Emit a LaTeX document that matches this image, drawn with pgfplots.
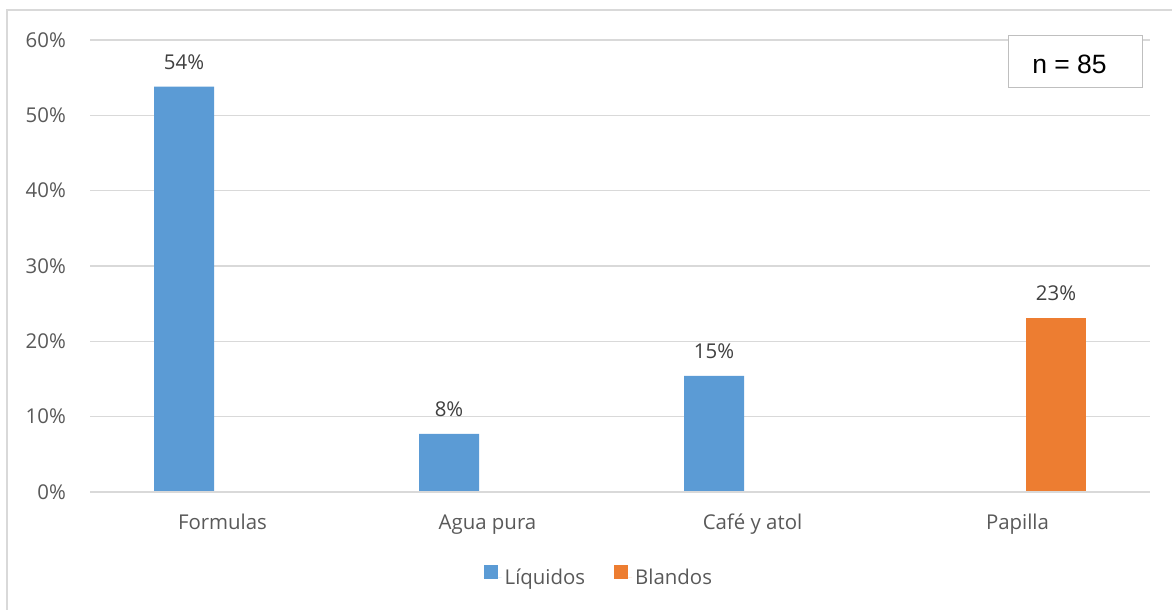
\documentclass[border=0pt]{standalone}
\usepackage{pgfplots}
\pgfplotsset{compat=1.18}
\usepackage{fontspec}
\setmainfont{Open Sans}
\newfontfamily\arialf{Liberation Sans}
\definecolor{barblue}{HTML}{5B9BD5}
\definecolor{barorange}{HTML}{ED7D31}
\definecolor{gridgray}{HTML}{D9D9D9}
\definecolor{boxgray}{HTML}{BFBFBF}
\definecolor{txtgray}{HTML}{595959}
\definecolor{lblgray}{HTML}{404040}
\begin{document}
\begin{tikzpicture}[x=1pt,y=1pt]
\useasboundingbox (0pt,0pt) rectangle (1172pt,-610pt);
\draw[gridgray, line width=1.2pt] (7pt,-610pt) -- (7pt,-10pt) -- (1172pt,-10pt);
\begin{axis}[
  at={(90pt,-492pt)}, anchor=south west,
  scale only axis, width=1060pt, height=452pt,
  xmin=-0.5, xmax=3.5, ymin=0, ymax=60,
  xtick={0,1,2,3},
  xticklabels={Formulas, Agua pura, Café y atol, Papilla},
  ytick={0,10,20,30,40,50,60},
  /pgf/number format/assume math mode=true,
  yticklabel={\pgfmathprintnumber{\tick}\%},
  axis line style={draw=none},
  major tick length=0pt,
  tick style={draw=none},
  ymajorgrids,
  grid style={gridgray, line width=1.2pt},
  tick label style={font=\fontsize{20.4}{24}\selectfont, text=txtgray, inner sep=0pt},
  yticklabel style={anchor=east, xshift=-24pt},
  xticklabel style={anchor=base, yshift=-37pt},
  nodes near coords={\pgfmathprintnumber[fixed,precision=0]{\pgfplotspointmeta}\%},
  point meta=y,
  nodes near coords style={font=\fontsize{20.4}{24}\selectfont, text=lblgray, anchor=base, inner sep=0pt, yshift=17pt},
  legend columns=2,
  legend style={at={(0.4805,-0.188)}, anchor=center, draw=none, fill=none,
    font=\fontsize{20.4}{24}\selectfont, text=txtgray,
    /tikz/every even column/.append style={column sep=26pt},
    nodes={inner sep=3pt}},
  legend image code/.code={\fill (0pt,-2pt) rectangle (14pt,12pt); \path (0pt,0pt) -- (18pt,0pt);},
  clip=false,
]
\addplot[ybar, bar width=60pt, bar shift=-38.5pt, fill=barblue, draw=none,
  every node near coord/.append style={xshift=-38.5pt}]
  coordinates {(0,53.8) (1,7.7) (2,15.4)};
\addlegendentry{Líquidos}
\addplot[ybar, bar width=60pt, bar shift=38.5pt, fill=barorange, draw=none,
  every node near coord/.append style={xshift=38.5pt}]
  coordinates {(3,23.1)};
\addlegendentry{Blandos}
\draw[gridgray, line width=1.6pt] (rel axis cs:0,0) -- (rel axis cs:1,0);
\end{axis}
\draw[boxgray, fill=white, line width=1pt] (1008pt,-36pt) rectangle (1142pt,-87pt);
\node[anchor=base, font=\arialf\fontsize{26.5}{30}\selectfont, inner sep=0pt] at (1069.5pt,-74pt) {n = 85};
\end{tikzpicture}
\end{document}
